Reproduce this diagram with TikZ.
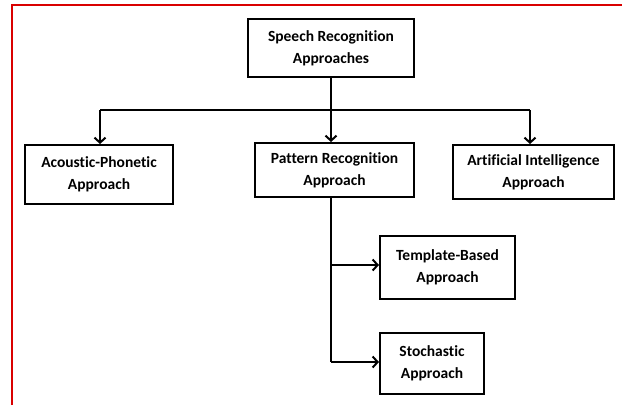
\documentclass[tikz,border=0pt]{standalone}
\usepackage{fontspec}
\setmainfont{Carlito}[Ligatures={NoCommon}]
\usetikzlibrary{arrows.meta}
\begin{document}
\begin{tikzpicture}[x=1pt,y=-1pt,
  box/.style={draw=black,line width=2pt,rectangle,align=center,inner sep=0pt,
    font=\bfseries\fontsize{15.5}{22}\selectfont},
  conn/.style={draw=black,line width=2pt},
  arr/.style={conn,-{Straight Barb[length=5pt,width=11pt,line width=2pt]}}]
\useasboundingbox (0,0) rectangle (622,405);
\draw[red!85!black,line width=2pt] (12,405) -- (12,5) -- (622,5);
\node[box,minimum width=166pt,minimum height=58pt] (root) at (331,48) {Speech Recognition\\Approaches};
\node[box,minimum width=148pt,minimum height=59pt] (ac) at (99,174.5) {Acoustic-Phonetic\\Approach};
\node[box,minimum width=159pt,minimum height=54pt] (pr) at (334.5,170) {Pattern Recognition\\Approach};
\node[box,minimum width=161pt,minimum height=54pt] (ai) at (533.5,172) {Artificial Intelligence\\Approach};
\node[box,minimum width=135pt,minimum height=63pt] (tb) at (447.5,267.5) {Template-Based\\Approach};
\node[box,minimum width=104pt,minimum height=61pt] (st) at (432,363.5) {Stochastic\\Approach};
\coordinate (hub) at (331,110);
\coordinate (hl) at (100,110);
\coordinate (hr) at (530,110);
\coordinate (pb) at (331,197);
\coordinate (j1) at (331,265);
\coordinate (j2) at (331,362);
\draw[conn] (root.south -| hub) -- (hub);
\draw[conn] (hl) -- (hr);
\draw[arr] (hl) -- (hl |- ac.north);
\draw[arr] (hub) -- (hub |- pr.north);
\draw[arr] (hr) -- (hr |- ai.north);
\draw[conn] (pb) -- (j2);
\draw[arr] (j1) -- (j1 -| tb.west);
\draw[arr] (j2) -- (j2 -| st.west);
\end{tikzpicture}
\end{document}
